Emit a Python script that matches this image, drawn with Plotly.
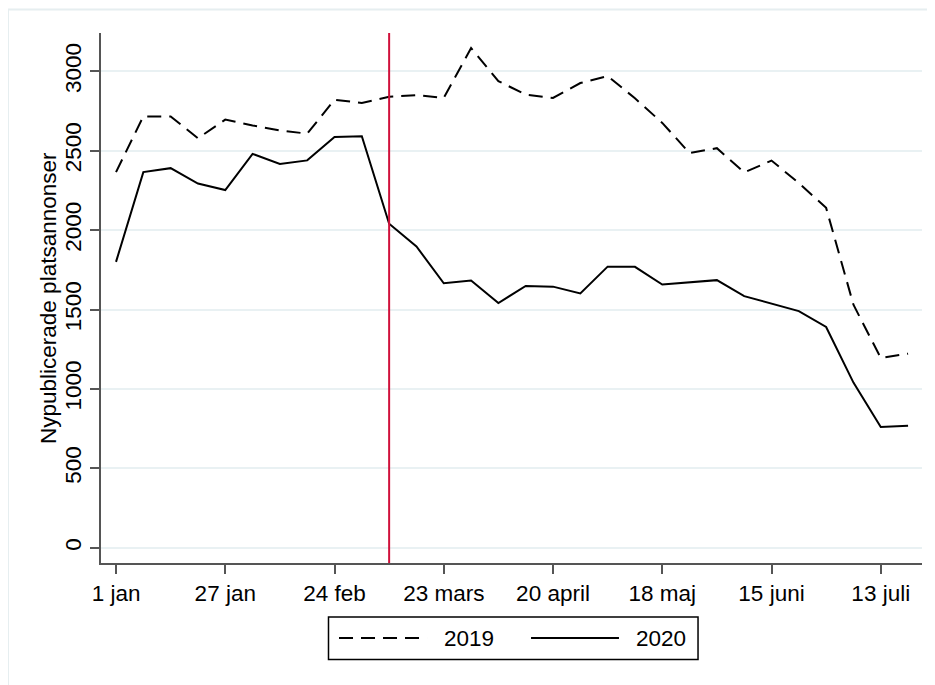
import plotly.graph_objects as go

# veckonummer 2020, vecka 1 = 1 jan
weeks = list(range(1, 31))

annonser_2019 = [2365, 2716, 2716, 2578, 2696, 2659, 2628, 2607, 2821, 2800,
                 2840, 2850, 2832, 3146, 2938, 2853, 2832, 2926, 2970, 2830,
                 2675, 2485, 2516, 2363, 2438, 2296, 2140, 1530, 1195, 1222]

annonser_2020 = [1800, 2365, 2390, 2293, 2252, 2480, 2417, 2439, 2586, 2591,
                 2040, 1897, 1665, 1683, 1541, 1648, 1644, 1601, 1770, 1769,
                 1657, 1671, 1685, 1584, 1538, 1490, 1390, 1040, 760, 768]

tick_weeks = [1, 5, 9, 13, 17, 21, 25, 29]
tick_labels = ["1 jan", "27 jan", "24 feb", "23 mars", "20 april", "18 maj", "15 juni", "13 juli"]
y_ticks = [0, 500, 1000, 1500, 2000, 2500, 3000]
marker_week = 11  # vertikal markering

FONT = "Liberation Sans, Arial, sans-serif"
FSIZE = 22.5
AXIS_COLOR = "#555555"
GRID_COLOR = "#E9F1F3"
DASH = "14px,8px"

fig = go.Figure()

fig.add_trace(
	go.Scatter(
		x=weeks, y=annonser_2019, mode="lines", name="2019",
		line=dict(color="black", width=2, dash=DASH),
		showlegend=False,
	)
)
fig.add_trace(
	go.Scatter(
		x=weeks, y=annonser_2020, mode="lines", name="2020",
		line=dict(color="black", width=2),
		showlegend=False,
	)
)

# röd vertikal linje
fig.add_shape(
	type="line", xref="x", yref="paper",
	x0=marker_week, x1=marker_week, y0=0, y1=1,
	line=dict(color="#D0103A", width=2),
)

# ljus ram runt hela grafen
fig.add_shape(
	type="rect", xref="paper", yref="paper",
	x0=-0.1133, x1=1.03, y0=-0.25, y1=1.0444,
	line=dict(color="#E6EEF0", width=2),
	layer="below",
)

# legend i Stata-stil (ruta med långa linjeprover)
fig.add_shape(
	type="rect", xref="paper", yref="paper",
	x0=0.2771, x1=0.7272, y0=-0.1822, y1=-0.1020,
	line=dict(color="black", width=1.5),
)
fig.add_shape(
	type="line", xref="paper", yref="paper",
	x0=0.2899, x1=0.3971, y0=-0.1416, y1=-0.1416,
	line=dict(color="black", width=2, dash=DASH),
)
fig.add_shape(
	type="line", xref="paper", yref="paper",
	x0=0.5238, x1=0.6309, y0=-0.1416, y1=-0.1416,
	line=dict(color="black", width=2),
)
for xpos, label in [(0.4153, "2019"), (0.6492, "2020")]:
	fig.add_annotation(
		x=xpos, y=-0.1416, xref="paper", yref="paper",
		text=label, showarrow=False, xanchor="left", yanchor="middle",
		font=dict(size=FSIZE, color="black", family=FONT),
	)

# y-axelns titel
fig.add_annotation(
	x=-0.0646, y=0.5, xref="paper", yref="paper",
	text="Nypublicerade platsannonser", textangle=-90, showarrow=False,
	xanchor="center", yanchor="middle",
	font=dict(size=FSIZE, color="black", family=FONT),
)

fig.update_xaxes(
	range=[0.45, 30.51],
	tickvals=tick_weeks,
	ticktext=tick_labels,
	showgrid=False,
	zeroline=False,
	showline=True,
	linecolor=AXIS_COLOR,
	linewidth=2,
	ticks="outside",
	ticklen=9,
	tickwidth=2,
	tickcolor=AXIS_COLOR,
	tickfont=dict(size=FSIZE, color="black", family=FONT),
)
fig.update_yaxes(
	range=[-96, 3241],
	tickvals=y_ticks,
	tickangle=-90,
	showgrid=True,
	gridcolor=GRID_COLOR,
	gridwidth=2,
	zeroline=False,
	showline=True,
	linecolor=AXIS_COLOR,
	linewidth=2,
	ticks="outside",
	ticklen=9,
	tickwidth=2,
	tickcolor=AXIS_COLOR,
	ticklabelstandoff=0,
	tickfont=dict(size=FSIZE, color="black", family=FONT),
)

# sidan har 8 px marginal i body, därför förskjuts figuren
fig.update_layout(
	width=927,
	height=677,
	margin={"l": 93, "r": 13, "t": 25, "b": 122},
	plot_bgcolor="white",
	paper_bgcolor="white",
	font=dict(family=FONT, color="black"),
	showlegend=False,
)

fig.write_html("out.html")
